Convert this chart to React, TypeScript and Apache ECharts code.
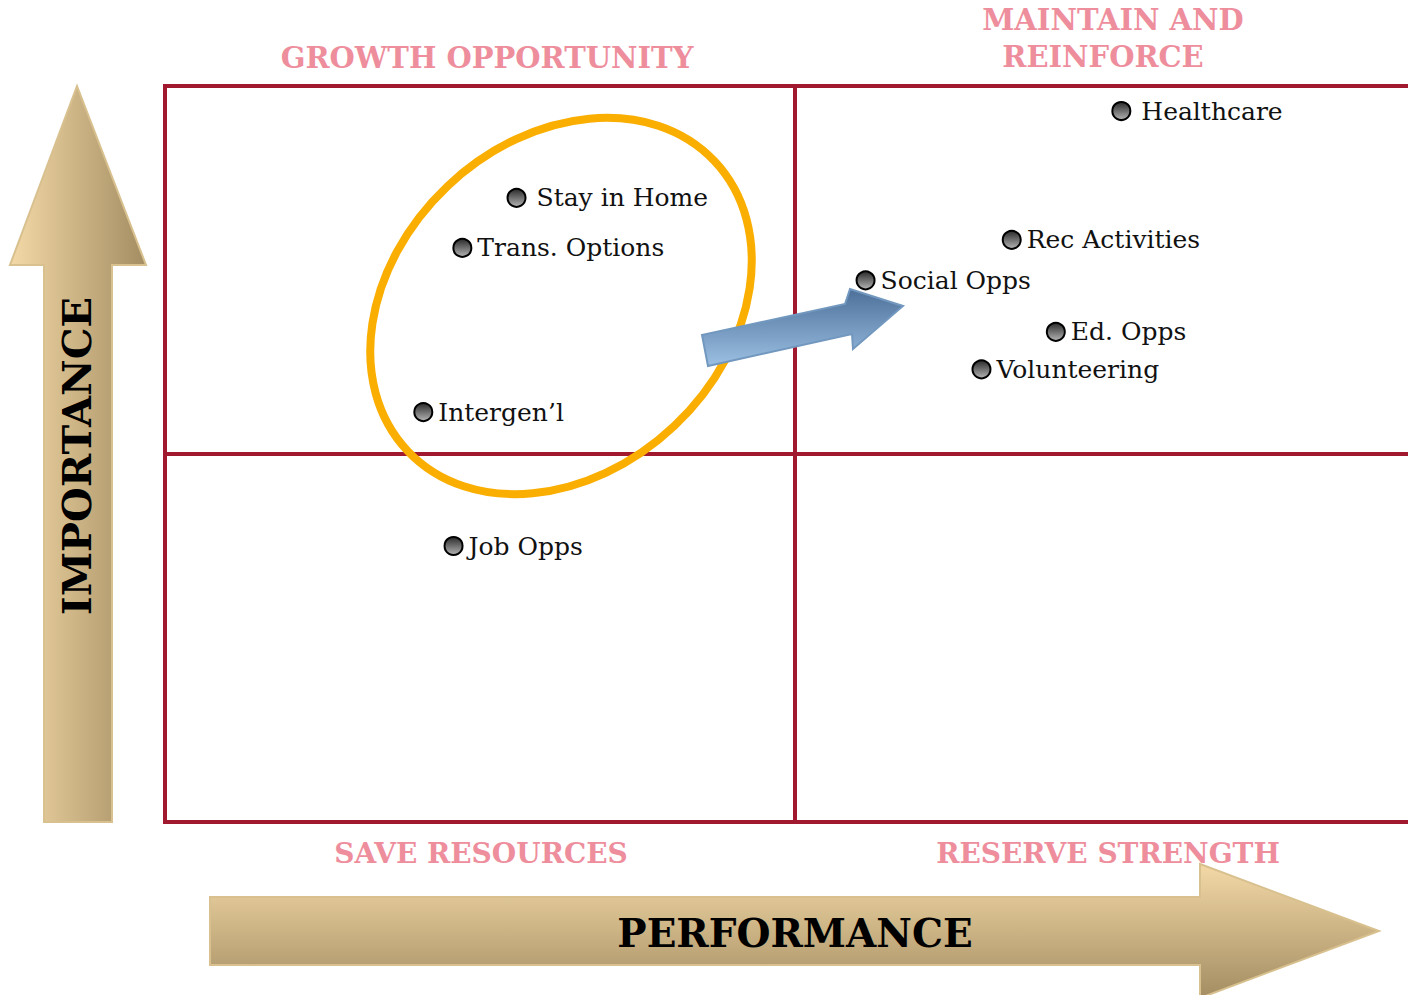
import React, { useEffect, useRef } from "react";
import * as echarts from "echarts";

const names = ["Healthcare", "Stay in Home", "Trans. Options", "Rec Activities", "Social Opps", "Ed. Opps", "Volunteering", "Intergen\u2019l", "Job Opps"];
const performance = [7.59, 2.79, 2.36, 6.72, 5.56, 7.07, 6.48, 2.05, 2.29];
const importance = [9.66, 8.48, 7.8, 7.91, 7.36, 6.66, 6.15, 5.57, 3.75];
const quadrantTitles = ["GROWTH OPPORTUNITY", "MAINTAIN AND\nREINFORCE", "SAVE RESOURCES", "RESERVE STRENGTH"];
const axisTitles = ["PERFORMANCE", "IMPORTANCE"];

const FONT = "'DejaVu Serif', serif";
const PINK = "#EE8E9D";
const FRAME = "#A0192F";

export default function App() {
  const ref = useRef<HTMLDivElement>(null);
  useEffect(() => {
    const chart = echarts.init(ref.current!, null, { renderer: "svg" });
    const gold = (x2: number, y2: number) =>
      new echarts.graphic.LinearGradient(0, 0, x2, y2, [
        { offset: 0, color: "#F4D9A7" },
        { offset: 1, color: "#A38D62" },
      ]);
    const data = names.map((n, i) => ({
      name: n,
      value: [performance[i], importance[i]],
      label: { distance: i < 2 ? 10 : 5 },
    }));
    const [mLine1, mLine2] = quadrantTitles[1].split("\n");
    const pinkText = (text: string, x: number, y: number, size: number) => ({
      type: "text", z: 3, x, y,
      style: { text, fill: PINK, font: `bold ${size}px ${FONT}`, align: "center", verticalAlign: "middle" },
    });
    chart.setOption({
      animation: false,
      grid: { left: 165, top: 86, width: 1260, height: 736, show: true, borderColor: FRAME, borderWidth: 4, backgroundColor: "transparent" },
      xAxis: {
        type: "value", min: 0, max: 10, interval: 5,
        axisLine: { show: false }, axisTick: { show: false }, axisLabel: { show: false },
        splitLine: { show: true, lineStyle: { color: FRAME, width: 4 } },
      },
      yAxis: {
        type: "value", min: 0, max: 10, interval: 5,
        axisLine: { show: false }, axisTick: { show: false }, axisLabel: { show: false },
        splitLine: { show: true, lineStyle: { color: FRAME, width: 4 } },
      },
      series: [
        {
          type: "scatter",
          symbol: "circle",
          symbolSize: 18,
          z: 10,
          itemStyle: {
            color: new echarts.graphic.LinearGradient(0, 0, 0, 1, [
              { offset: 0, color: "#2a2a2a" },
              { offset: 1, color: "#b5b5b5" },
            ]),
            borderColor: "#000",
            borderWidth: 2,
            opacity: 1,
          },
          label: {
            show: true,
            position: "right",
            formatter: "{b}",
            color: "#111",
            fontFamily: FONT,
            fontSize: 25,
          },
          data,
        },
      ],
      graphic: [
        {
          type: "polygon", z: 1,
          shape: { points: [[77, 86], [146, 265], [112, 265], [112, 822], [44, 822], [44, 265], [10, 265]] },
          style: { fill: gold(1, 0), stroke: "#D8C08F", lineWidth: 2 },
        },
        {
          type: "polygon", z: 1,
          shape: { points: [[210, 897], [1200, 897], [1200, 864], [1379, 931], [1200, 998], [1200, 965], [210, 965]] },
          style: { fill: gold(0, 1), stroke: "#D8C08F", lineWidth: 2 },
        },
        {
          type: "text", z: 3, x: 795, y: 933,
          style: { text: axisTitles[0], fill: "#000", font: `bold 39px ${FONT}`, align: "center", verticalAlign: "middle" },
        },
        {
          type: "text", z: 3, x: 76, y: 456, rotation: Math.PI / 2,
          style: { text: axisTitles[1], fill: "#000", font: `bold 40px ${FONT}`, align: "center", verticalAlign: "middle" },
        },
        pinkText(quadrantTitles[0], 487, 58, 29),
        pinkText(mLine1, 1113, 20, 29),
        pinkText(mLine2, 1103, 57, 29),
        pinkText(quadrantTitles[2], 481, 853, 28),
        pinkText(quadrantTitles[3], 1108, 853, 28),
        {
          type: "ellipse", z: 5, x: 561, y: 306, rotation: 0.757,
          shape: { cx: 0, cy: 0, rx: 211, ry: 165 },
          style: { fill: "none", stroke: "#FAAE00", lineWidth: 8 },
        },
        {
          type: "polygon", z: 6,
          shape: { points: [[702, 335], [845, 304], [850, 289], [903, 306], [853, 349], [852, 334], [708, 366]] },
          style: {
            fill: new echarts.graphic.LinearGradient(0, 0, 0, 1, [
              { offset: 0, color: "#4C7099" },
              { offset: 1, color: "#9CC0E3" },
            ]),
            stroke: "#7298BF",
            lineWidth: 2,
          },
        },
      ],
    });
    return () => chart.dispose();
  }, []);
  return (
    <div style={{ position: "absolute", left: 0, top: 0, width: 1408, height: 995, overflow: "hidden", background: "#fff" }}>
      <div ref={ref} style={{ position: "absolute", left: 0, top: 0, width: 1425, height: 995 }} />
    </div>
  );
}
